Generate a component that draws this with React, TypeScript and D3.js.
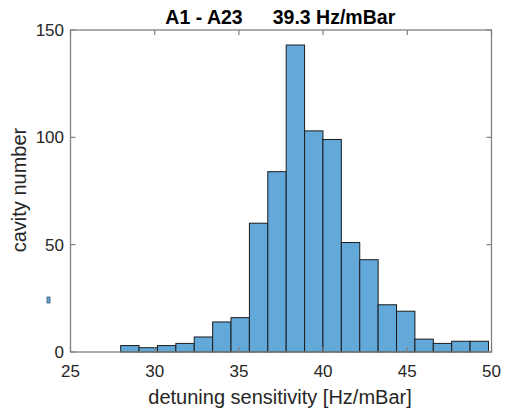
import React from "react";
import * as d3 from "d3";

const binStart = 27.98;
const binWidth = 1.092;
const counts = [3, 2, 3, 4, 7, 14, 16, 60, 84, 143, 103, 99, 51, 43, 22, 19, 6, 4, 5, 5];
const xTicks = [25, 30, 35, 40, 45, 50];
const yTicks = [0, 50, 100, 150];
const titleLeft = "A1 - A23";
const titleRight = "39.3 Hz/mBar";
const xLabel = "detuning sensitivity [Hz/mBar]";
const yLabel = "cavity number";

export default function App() {
  const W = 505, H = 410;
  const x = d3.scaleLinear().domain([25, 50]).range([70.5, 491.5]);
  const y = d3.scaleLinear().domain([0, 150]).range([352, 30]);
  const font = "'Liberation Sans', Arial, sans-serif";
  const axisColor = "#808080";
  const textColor = "#262626";
  const tl = 5;
  const tickFs = 17;
  const bins = counts.map((c, i) => ({ x0: binStart + i * binWidth, x1: binStart + (i + 1) * binWidth, c }));
  const [x0, x1] = x.range();
  const [yb, yt] = y.range();
  return (
    <svg width={W} height={H} style={{ position: "absolute", left: 0, top: 0 }} fontFamily={font}>
      <rect width={W} height={H} fill="#fff" />
      {bins.map((b, i) => (
        <rect key={i} x={x(b.x0)} y={y(b.c)} width={x(b.x1) - x(b.x0)} height={y(0) - y(b.c)}
          fill="#62a8d8" stroke="#1c1c1c" strokeWidth={1} />
      ))}
      <rect x={47} y={297} width={3} height={6} fill="#62a8d8" stroke="#3a5a70" strokeWidth={0.8} />
      <rect x={x0} y={yt} width={x1 - x0} height={yb - yt} fill="none" stroke={axisColor} strokeWidth={1.3} />
      {xTicks.map((t) => (
        <g key={"x" + t}>
          <line x1={x(t)} x2={x(t)} y1={yb} y2={yb - tl} stroke={axisColor} strokeWidth={1.2} />
          <line x1={x(t)} x2={x(t)} y1={yt} y2={yt + tl} stroke={axisColor} strokeWidth={1.2} />
          <text x={x(t)} y={377} textAnchor="middle" fontSize={tickFs} fill={textColor}>{t}</text>
        </g>
      ))}
      {yTicks.map((t) => (
        <g key={"y" + t}>
          <line x1={x0} x2={x0 + tl} y1={y(t)} y2={y(t)} stroke={axisColor} strokeWidth={1.2} />
          <line x1={x1} x2={x1 - tl} y1={y(t)} y2={y(t)} stroke={axisColor} strokeWidth={1.2} />
          <text x={64} y={y(t) + tickFs * 0.36} textAnchor="end" fontSize={tickFs} fill={textColor}>{t}</text>
        </g>
      ))}
      <text x={204} y={24} textAnchor="middle" fontSize={19.5} fontWeight="bold" fill="#000">{titleLeft}</text>
      <text x={334} y={24} textAnchor="middle" fontSize={19.5} fontWeight="bold" fill="#000">{titleRight}</text>
      <text x={280} y={404} textAnchor="middle" fontSize={20} fill={textColor}>{xLabel}</text>
      <text transform={`translate(26,190) rotate(-90)`} textAnchor="middle" fontSize={20} fill={textColor}>{yLabel}</text>
    </svg>
  );
}
